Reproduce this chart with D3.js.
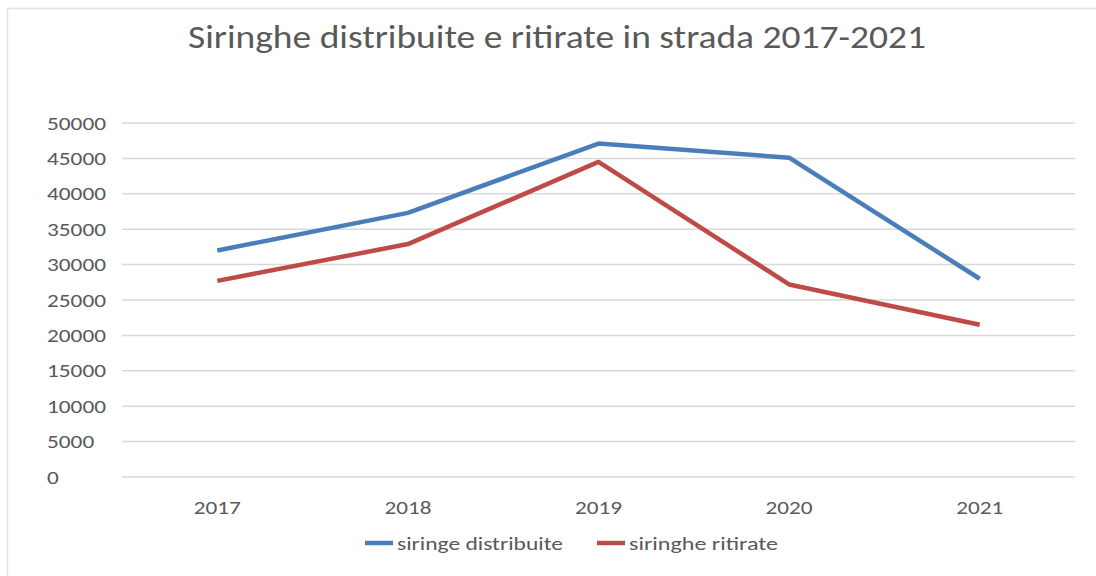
<!DOCTYPE html>
<html>
<head>
<meta charset="utf-8">
<script src="https://cdn.jsdelivr.net/npm/d3@7"></script>
<style>
  body { margin: 0; background: #fff; }
  text { font-family: Carlito, Calibri, "Open Sans", sans-serif; fill: #595959; }
</style>
</head>
<body>
<svg id="chart" width="1096" height="576"></svg>
<script>
// dati
var anni = ["2017", "2018", "2019", "2020", "2021"];
var distribuite = [32000, 37300, 47100, 45100, 28000];
var ritirate = [27700, 32900, 44500, 27200, 21500];
var yTicks = [0, 5000, 10000, 15000, 20000, 25000, 30000, 35000, 40000, 45000, 50000];
var titolo = "Siringhe distribuite e ritirate in strada 2017-2021";
var nomiSerie = ["siringe distribuite", "siringhe ritirate"];

var colori = ["#4a7ebb", "#be4b48"];

var svg = d3.select("#chart");

// cornice (solo sopra e a sinistra come nell'originale)
svg.append("path")
    .attr("d", "M7.5,576 V8.5 H1096")
    .attr("fill", "none")
    .attr("stroke", "#e3e3e3")
    .attr("stroke-width", 1.5);

var x = d3.scaleBand().domain(anni).range([122, 1075]);
var y = d3.scaleLinear().domain([0, 50000]).range([477, 123]);

// titolo
svg.append("text")
    .attr("x", 188)
    .attr("y", 48)
    .attr("font-size", 32)
    .attr("font-weight", 300)
    .attr("textLength", 738)
    .attr("lengthAdjust", "spacingAndGlyphs")
    .text(titolo);

// griglia
svg.selectAll(".grid")
    .data(yTicks)
    .enter()
    .append("line")
    .attr("x1", 122)
    .attr("x2", 1075)
    .attr("y1", function(d) { return y(d); })
    .attr("y2", function(d) { return y(d); })
    .attr("stroke", "#d9d9d9")
    .attr("stroke-width", 1.5);

// etichette asse y (allineate a sinistra)
svg.selectAll(".ylab")
    .data(yTicks)
    .enter()
    .append("text")
    .attr("x", 47)
    .attr("y", function(d) { return y(d) + 6.5; })
    .attr("font-size", 18)
    .attr("textLength", function(d) { return String(d).length * 11.8; })
    .attr("lengthAdjust", "spacingAndGlyphs")
    .text(function(d) { return d; });

// etichette asse x
svg.selectAll(".xlab")
    .data(anni)
    .enter()
    .append("text")
    .attr("x", function(d) { return x(d) + x.bandwidth() / 2; })
    .attr("y", 514)
    .attr("text-anchor", "middle")
    .attr("font-size", 18)
    .attr("textLength", 47)
    .attr("lengthAdjust", "spacingAndGlyphs")
    .text(function(d) { return d; });

// linee
var linea = d3.line()
    .x(function(d, i) { return x(anni[i]) + x.bandwidth() / 2; })
    .y(function(d) { return y(d); });

[distribuite, ritirate].forEach(function(serie, k) {
  svg.append("path")
      .datum(serie)
      .attr("d", linea)
      .attr("fill", "none")
      .attr("stroke", colori[k])
      .attr("stroke-width", 4.5)
      .attr("stroke-linejoin", "round");
});

// legenda
var leg = [
  { x: 365, w: 166 },
  { x: 597, w: 149 }
];
leg.forEach(function(l, k) {
  svg.append("line")
      .attr("x1", l.x).attr("x2", l.x + 28)
      .attr("y1", 543).attr("y2", 543)
      .attr("stroke", colori[k])
      .attr("stroke-width", 4.5);
  svg.append("text")
      .attr("x", l.x + 32)
      .attr("y", 550)
      .attr("font-size", 19)
      .attr("textLength", l.w)
      .attr("lengthAdjust", "spacingAndGlyphs")
      .text(nomiSerie[k]);
});
</script>
</body>
</html>
